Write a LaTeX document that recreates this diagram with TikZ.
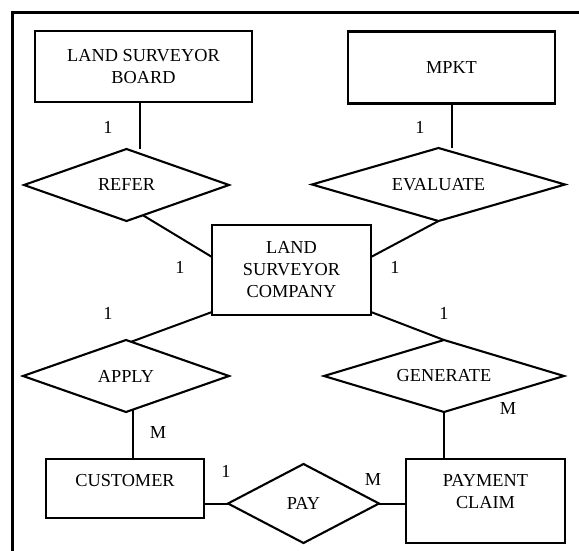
\documentclass[tikz,border=0pt]{standalone}
\usepackage{fontspec}
\setmainfont{Liberation Serif}
\usetikzlibrary{shapes.geometric,calc}
\begin{document}
\begin{tikzpicture}[x=1pt,y=-1pt,
  font=\fontsize{18.3pt}{22pt}\selectfont,
  ent/.style={draw,line width=2.1pt,rectangle,inner sep=0pt,outer sep=0pt,align=center},
  rel/.style={draw,line width=2.1pt,diamond,inner sep=0pt,outer sep=0pt,align=center},
  conn/.style={line width=2pt},
  txt/.style={inner sep=0pt,align=center},
  card/.style={inner sep=0pt}]
\useasboundingbox (0,0) rectangle (579,551);
% frame (top and left edges)
\draw[line width=3.8pt] (12.5,551) -- (12.5,12.5) -- (579,12.5);
% entities
\node[ent,minimum width=217pt,minimum height=71pt] (board) at (143.5,66.5) {LAND SURVEYOR\\BOARD};
\node[ent,minimum width=207pt,minimum height=72pt] (mpkt) at (451.5,67.5) {MPKT};
\node[ent,minimum width=159pt,minimum height=90pt] (company) at (291.5,270) {LAND\\SURVEYOR\\COMPANY};
\node[ent,minimum width=158pt,minimum height=59pt] (customer) at (125,488.5) {};
\node[txt] (customertext) at ([yshift=7.5pt]customer.center) {CUSTOMER};
\node[ent,minimum width=159pt,minimum height=84pt] (payment) at (485.5,501) {};
\node[txt] (paymenttext) at ([yshift=9pt]payment.center) {PAYMENT\\CLAIM};
% relationships
\node[rel,aspect=2.85,minimum width=205pt,minimum height=72pt] (refer) at (126.5,185) {REFER};
\node[rel,aspect=3.47,minimum width=253pt,minimum height=73pt] (evaluate) at (438.5,184.5) {EVALUATE};
\node[rel,aspect=2.86,minimum width=206pt,minimum height=72pt] (apply) at (126,376) {APPLY};
\node[rel,aspect=3.33,minimum width=240pt,minimum height=72pt] (generate) at (444,376) {GENERATE};
\node[rel,aspect=1.91,minimum width=151pt,minimum height=79pt] (pay) at (303.5,503.5) {PAY};
% connectors
\draw[conn] ([xshift=-3.5pt]board.south) -- ([xshift=13.5pt]refer.north);
\draw[conn] ($(refer.south)!0.16!(refer.east)$) -- ([yshift=13pt]company.west);
\draw[conn] (mpkt.south) -- (mpkt.south |- evaluate.north);
\draw[conn] (evaluate.south) -- ([yshift=13pt]company.east);
\draw[conn] ([yshift=3pt]company.south west) -- ($(apply.north)!0.05!(apply.east)$);
\coordinate (applyfoot) at ($(apply.south)!0.07!(apply.east)$);
\draw[conn] (applyfoot) -- (applyfoot |- customer.north);
\draw[conn] ([yshift=3pt]company.south east) -- (generate.north);
\draw[conn] (generate.south) -- (generate.south |- payment.north);
\draw[conn] (pay.west -| customer.east) -- (pay.west);
\draw[conn] (pay.east) -- (pay.east -| payment.west);
% cardinalities
\node[card] (c1) at (108,127) {1};
\node[card] (c2) at (180,267) {1};
\node[card] (c3) at (420,127) {1};
\node[card] (c4) at (395,267) {1};
\node[card] (c5) at (108,313) {1};
\node[card] (c6) at (444,313) {1};
\node[card] (c7) at (158,433) {M};
\node[card] (c8) at (508,409) {M};
\node[card] (c9) at (226,471) {1};
\node[card] (c10) at (373,480) {M};
\end{tikzpicture}
\end{document}
